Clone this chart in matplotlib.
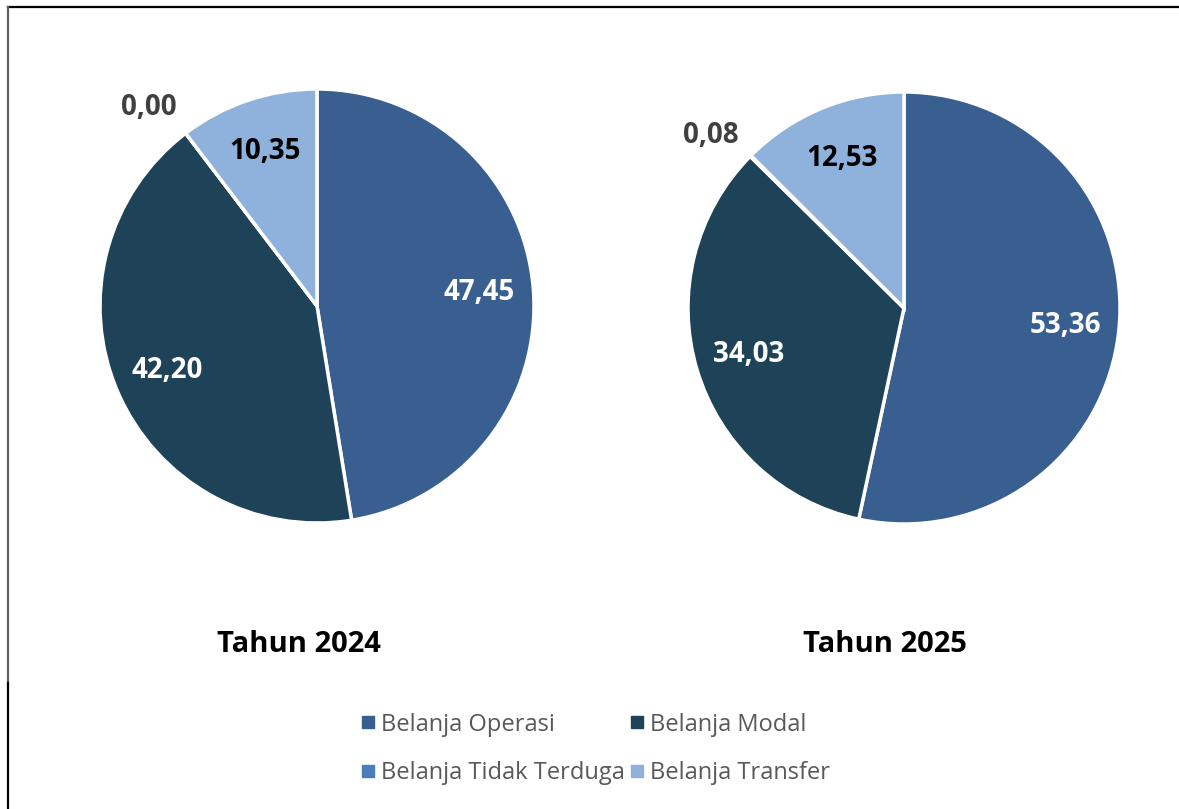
"""Komposisi belanja daerah 2024 vs 2025: two pies with shared legend."""

import numpy as np
import matplotlib
matplotlib.use("Agg")
import matplotlib.pyplot as plt
from matplotlib.lines import Line2D

categories = ["Belanja Operasi", "Belanja Modal", "Belanja Tidak Terduga", "Belanja Transfer"]
share_2024 = [47.45, 42.20, 0.00, 10.35]
share_2025 = [53.36, 34.03, 0.08, 12.53]
years = ["Tahun 2024", "Tahun 2025"]

colors = ["#385F90", "#1E4359", "#4A7EBB", "#8FB2DD"]
label_colors = ["white", "white", "#404040", "black"]

plt.rcParams["font.family"] = ["Open Sans", "DejaVu Sans"]

W, H = 1179, 809
fig = plt.figure(figsize=(W / 100, H / 100), dpi=100)

# pixel geometry of each pie: centre x, centre y, radius, title x
pies = [(317, 306, 217, 299), (904, 308, 216, 885)]
data = [share_2024, share_2025]
title_y = 645

for (cx, cy, r, tx), vals, year in zip(pies, data, years):
    ax = fig.add_axes([(cx - r) / W, (H - cy - r) / H, 2 * r / W, 2 * r / H])
    wedges, _ = ax.pie(vals, colors=colors, startangle=90, counterclock=False,
                       radius=1, wedgeprops=dict(edgecolor="white", linewidth=2.5))
    ax.set_xlim(-1, 1)
    ax.set_ylim(-1, 1)
    ax.set_aspect("equal")
    ax.axis("off")
    for w, v, tc in zip(wedges, vals, label_colors):
        mid = np.deg2rad((w.theta1 + w.theta2) / 2)
        if v < 1:
            mid += np.deg2rad(3)
            dist = 1.2
        else:
            dist = 0.75
        ax.text(dist * np.cos(mid), dist * np.sin(mid), f"{v:.2f}".replace(".", ","),
                ha="center", va="center", fontsize=20, fontweight="bold", color=tc)
    fig.text(tx / W, 1 - title_y / H, year, ha="center", va="center",
             fontsize=21, fontweight="bold", color="black")

# legend, row-major order in the picture -> column-major for matplotlib
order = [0, 2, 1, 3]
handles = [Line2D([], [], linestyle="none", marker="s", markersize=9,
                  color=colors[i]) for i in order]
leg = fig.legend(handles, [categories[i] for i in order], ncol=2,
                 loc="center", bbox_to_anchor=(596 / W, 1 - 749 / H),
                 frameon=False, fontsize=17, handlelength=0.5,
                 handletextpad=0.3, columnspacing=0.3, labelspacing=1.05)
for t in leg.get_texts():
    t.set_color("#595959")

# frame lines along the top and left edges
fig.add_artist(Line2D([8 / W, 1], [1 - 7 / H, 1 - 7 / H], color="black", lw=1.6))
fig.add_artist(Line2D([8 / W, 8 / W], [1 - 7 / H, 1 - 683 / H], color="#606060", lw=1.6))
fig.add_artist(Line2D([8 / W, 8 / W], [1 - 683 / H, 0], color="black", lw=1.6))

fig.savefig("out.png", dpi=100)
